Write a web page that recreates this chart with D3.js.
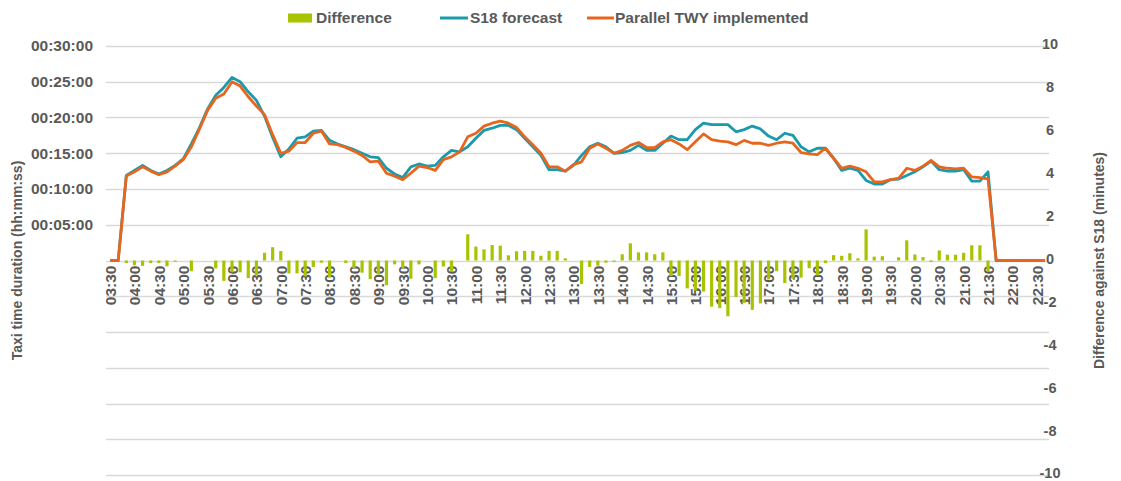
<!DOCTYPE html>
<html>
<head>
<meta charset="utf-8">
<script src="https://cdn.jsdelivr.net/npm/d3@7"></script>
<style>
  html, body { margin: 0; padding: 0; background: #ffffff; }
  svg { display: block; }
  text { font-family: "Liberation Sans", Arial, sans-serif; }
</style>
</head>
<body>
<div id="chart"></div>
<script>
// ---- Data ----
const times = [
  "03:30","03:40","03:50","04:00","04:10","04:20","04:30","04:40","04:50","05:00",
  "05:10","05:20","05:30","05:40","05:50","06:00","06:10","06:20","06:30","06:40",
  "06:50","07:00","07:10","07:20","07:30","07:40","07:50","08:00","08:10","08:20",
  "08:30","08:40","08:50","09:00","09:10","09:20","09:30","09:40","09:50","10:00",
  "10:10","10:20","10:30","10:40","10:50","11:00","11:10","11:20","11:30","11:40",
  "11:50","12:00","12:10","12:20","12:30","12:40","12:50","13:00","13:10","13:20",
  "13:30","13:40","13:50","14:00","14:10","14:20","14:30","14:40","14:50","15:00",
  "15:10","15:20","15:30","15:40","15:50","16:00","16:10","16:20","16:30","16:40",
  "16:50","17:00","17:10","17:20","17:30","17:40","17:50","18:00","18:10","18:20",
  "18:30","18:40","18:50","19:00","19:10","19:20","19:30","19:40","19:50","20:00",
  "20:10","20:20","20:30","20:40","20:50","21:00","21:10","21:20","21:30","21:40",
  "21:50","22:00","22:10","22:20","22:30","22:40"
];
// Taxi time in minutes
const s18Forecast = [
  0,0,11.9,12.6,13.3,12.6,12.1,12.6,13.3,14.2,
  16.3,18.6,21.2,23.1,24.2,25.6,25.0,23.6,22.4,20.2,
  17.2,14.5,15.6,17.1,17.3,18.1,18.2,16.8,16.3,15.9,
  15.5,15.0,14.5,14.4,12.9,12.1,11.6,13.1,13.5,13.2,
  13.3,14.5,15.4,15.2,15.9,17.1,18.2,18.5,18.9,18.9,
  18.3,17.1,15.9,14.7,12.7,12.7,12.5,13.3,14.7,15.9,
  16.4,15.9,15.0,15.1,15.4,16.1,15.4,15.4,16.4,17.4,
  16.9,16.9,18.3,19.2,19.0,19.0,19.0,18.0,18.3,18.8,
  18.4,17.4,16.9,17.8,17.5,15.9,15.2,15.7,15.7,14.3,
  12.6,12.9,12.6,11.2,10.7,10.7,11.3,11.4,11.9,12.4,
  13.1,13.9,12.7,12.5,12.5,12.7,11.1,11.1,12.4,0,
  0,0,0,0,0,0
];
const parallelTwy = [
  0,0,11.8,12.4,13.1,12.5,12.0,12.4,13.2,14.1,
  15.9,18.4,21.0,22.7,23.3,25.0,24.4,22.9,21.6,20.4,
  17.6,15.0,15.3,16.5,16.5,17.8,18.1,16.3,16.2,15.8,
  15.3,14.7,13.8,13.9,12.2,11.8,11.3,12.2,13.2,13.0,
  12.6,14.1,14.5,15.2,17.3,17.8,18.8,19.2,19.5,19.2,
  18.6,17.3,16.2,15.0,13.1,13.1,12.5,13.4,13.8,15.7,
  16.3,15.7,15.0,15.4,16.1,16.5,15.8,15.8,16.6,16.9,
  16.3,15.5,16.6,17.7,16.9,16.7,16.6,16.2,16.8,16.4,
  16.4,16.1,16.4,16.6,16.4,15.1,14.9,14.8,15.7,14.3,
  12.9,13.2,12.9,12.4,11.0,11.0,11.3,11.5,12.9,12.6,
  13.2,14.0,13.1,12.9,12.8,12.9,11.7,11.6,11.4,0,
  0,0,0,0,0,0
];
// Difference against S18, minutes
const difference = [
  0,0,-0.12,-0.22,-0.25,-0.12,-0.12,-0.27,-0.05,0,
  -0.5,0,0,-0.37,-0.95,-0.55,-0.55,-0.82,-0.7,0.36,
  0.62,0.44,-0.6,-0.6,-0.74,-0.3,-0.1,-0.8,0,-0.12,
  -0.35,-0.57,-0.87,-0.65,-1.15,-0.18,-0.35,-0.85,-0.18,0,
  -0.82,-0.28,-0.5,0,1.22,0.65,0.52,0.72,0.69,0.24,
  0.43,0.45,0.45,0.22,0.45,0.45,0.1,0,-1.1,-0.3,
  -0.24,-0.1,-0.06,0.29,0.8,0.38,0.38,0.29,0.38,-0.73,
  -0.72,-1.3,-1.4,-1.45,-2.15,-2.22,-2.6,-1.7,-1.98,-2.3,
  -2.0,-0.88,-0.5,-1.05,-0.85,-0.8,-0.36,-0.7,-0.12,0.25,
  0.22,0.34,0.1,1.45,0.18,0.2,0,0.15,0.94,0.28,
  0.16,-0.07,0.47,0.27,0.27,0.36,0.71,0.71,-0.5,0,
  0,0,0,0,0,0
];
const leftTicks = [5, 10, 15, 20, 25, 30];
const rightTicks = [-10, -8, -6, -4, -2, 0, 2, 4, 6, 8, 10];
const gridTicks = [-30, -25, -20, -15, -10, -5, 0, 5, 10, 15, 20, 25, 30];
const seriesNames = ["Difference", "S18 forecast", "Parallel TWY implemented"];

// ---- Layout ----
const W = 1121, H = 481;
const plot = { left: 106, right: 1049, top: 46, bottom: 475 };
const C = {
  text: "#595959", grid: "#d9d9d9",
  bar: "#a9c300", teal: "#1a9aab", orange: "#e8651e"
};
const FS = "15.5px";
const FONT = '"Liberation Sans", Arial, sans-serif';

const svg = d3.select("#chart").append("svg").attr("width", W).attr("height", H);

const x = d3.scalePoint().domain(times).range([plot.left, plot.right]).padding(0.5);
const yL = d3.scaleLinear().domain([-30, 30]).range([plot.bottom, plot.top]);
const yR = d3.scaleLinear().domain([-10, 10]).range([plot.bottom, plot.top]);

const fmtTime = m => {
  const mm = Math.floor(m), ss = Math.round((m - mm) * 60);
  return "00:" + String(mm).padStart(2, "0") + ":" + String(ss).padStart(2, "0");
};
const tickStyle = sel => sel.attr("fill", C.text).style("font-size", FS)
  .style("font-weight", "bold").style("font-family", FONT);

// gridlines
svg.append("g").selectAll("line").data(gridTicks).join("line")
  .attr("x1", plot.left).attr("x2", plot.right)
  .attr("y1", d => Math.round(yL(d)) + 0.5).attr("y2", d => Math.round(yL(d)) + 0.5)
  .attr("stroke", C.grid).attr("stroke-width", 1.3);

// left axis labels
const gL = svg.append("g").attr("transform", `translate(${plot.left},0)`)
  .call(d3.axisLeft(yL).tickValues(leftTicks).tickFormat(fmtTime).tickSize(0).tickPadding(13));
gL.select(".domain").remove();
gL.selectAll("text").call(tickStyle);

// right axis labels
const gR = svg.append("g").attr("transform", `translate(${plot.right},0)`)
  .call(d3.axisRight(yR).tickValues(rightTicks).tickFormat(d => String(d)).tickSize(0).tickPadding(0));
gR.select(".domain").remove();
gR.selectAll("text").call(tickStyle).style("font-size", "14.5px")
  .attr("text-anchor", "middle").attr("x", 1).attr("dy", "0.2em");

// x axis labels (every 3rd category), rotated, at the zero line
const labelTimes = times.filter((t, i) => i % 3 === 0);
const gX = svg.append("g").attr("transform", `translate(0,${yL(0)})`)
  .call(d3.axisBottom(x).tickValues(labelTimes).tickSize(0));
gX.select(".domain").remove();
gX.selectAll("text").call(tickStyle)
  .attr("text-anchor", "end").attr("dy", "0.35em")
  .attr("transform", "translate(0,5) rotate(-90)").attr("x", 0).attr("y", 0);

// bars
const barW = 3.2;
svg.append("g").selectAll("rect").data(difference.map((v, i) => ({ t: times[i], v })))
  .join("rect")
  .attr("x", d => x(d.t) - barW / 2)
  .attr("width", barW)
  .attr("y", d => Math.min(yR(d.v), yR(0)))
  .attr("height", d => Math.abs(yR(d.v) - yR(0)))
  .attr("fill", C.bar);

// lines
const line = d3.line().x(d => x(d.t)).y(d => yL(d.v));
svg.append("path").datum(s18Forecast.map((v, i) => ({ t: times[i], v })))
  .attr("d", line).attr("fill", "none").attr("stroke", C.teal)
  .attr("stroke-width", 2.8).attr("stroke-linejoin", "round");
svg.append("path").datum(parallelTwy.map((v, i) => ({ t: times[i], v })))
  .attr("d", line).attr("fill", "none").attr("stroke", C.orange)
  .attr("stroke-width", 2.8).attr("stroke-linejoin", "round");

// axis titles
const titleStyle = sel => sel.attr("fill", C.text).style("font-size", "14px").style("font-weight", "bold");
svg.append("text").attr("transform", `translate(22,${yL(0)}) rotate(-90)`)
  .attr("text-anchor", "middle").text("Taxi time duration (hh:mm:ss)").call(titleStyle);
svg.append("text").attr("transform", `translate(1104,${yL(0)}) rotate(-90)`)
  .attr("text-anchor", "middle").text("Difference against S18 (minutes)").call(titleStyle);

// legend
const lg = svg.append("g");
const ly = 18;
lg.append("rect").attr("x", 288).attr("y", ly - 4.5).attr("width", 24).attr("height", 9).attr("fill", C.bar);
lg.append("text").attr("x", 316).attr("y", ly).attr("dy", "0.35em").text(seriesNames[0]).call(tickStyle);
lg.append("line").attr("x1", 440).attr("x2", 468).attr("y1", ly).attr("y2", ly)
  .attr("stroke", C.teal).attr("stroke-width", 3);
lg.append("text").attr("x", 470).attr("y", ly).attr("dy", "0.35em").text(seriesNames[1]).call(tickStyle);
lg.append("line").attr("x1", 587).attr("x2", 614).attr("y1", ly).attr("y2", ly)
  .attr("stroke", C.orange).attr("stroke-width", 3);
lg.append("text").attr("x", 615).attr("y", ly).attr("dy", "0.35em").text(seriesNames[2]).call(tickStyle);
</script>
</body>
</html>
